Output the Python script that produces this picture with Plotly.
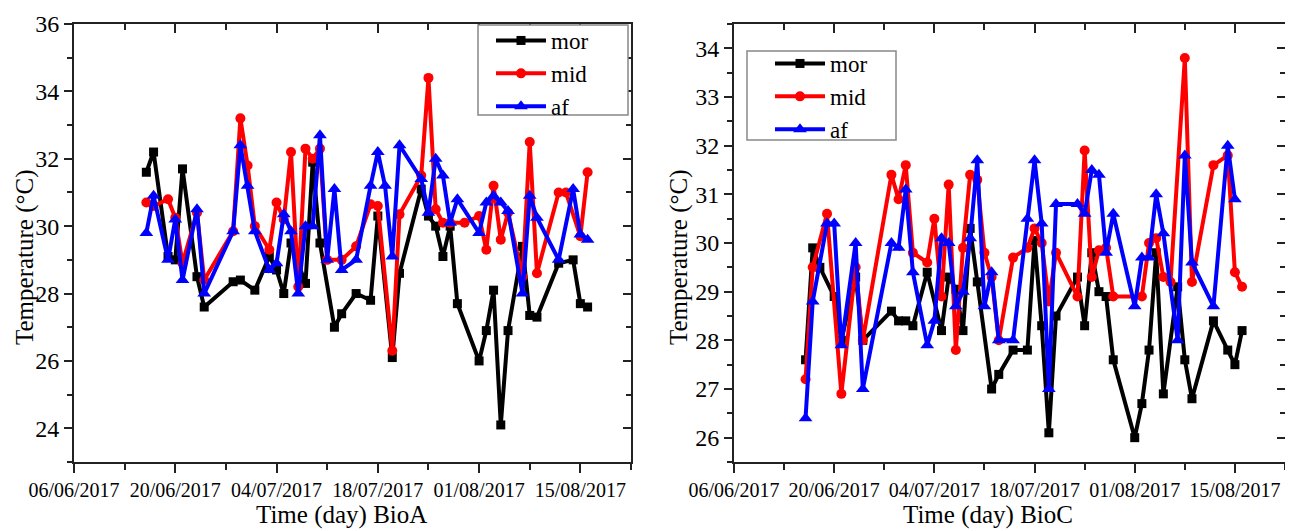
import plotly.graph_objects as go
import pandas as pd

# ---------------- data ----------------
BASE_DATE = "2017-06-06"          # day offsets below are counted from this date
RANGE_END = "2017-08-22"

# BioA
mor_A_day = [10,11,13,14,15,17,18,22,23,25,27,28,29,30,32,33,34,36,37,39,41,42,
             44,45,48,49,50,51,52,53,56,57,58,59,60,62,63,64,67,69,70,71]
mor_A = [31.6,32.2,29.1,29.0,31.7,28.5,27.6,28.35,28.4,28.1,29.1,28.7,28.0,29.5,
         28.3,31.9,29.5,27.0,27.4,28.0,27.8,30.3,26.1,28.6,31.1,30.3,30.0,29.1,
         30.0,27.7,26.0,26.9,28.1,24.1,26.9,29.4,27.35,27.3,28.9,29.0,27.7,27.6]
mid_A_day = [10,11,13,14,15,17,18,22,23,24,25,27,28,29,30,31,32,33,34,35,37,39,
             41,42,44,45,48,49,50,51,52,54,56,57,58,59,60,62,63,64,67,68,70,71]
mid_A = [30.7,30.6,30.8,30.25,28.9,30.4,28.4,29.85,33.2,31.8,30.0,29.3,30.7,30.2,
         32.2,28.2,32.3,32.0,32.3,29.0,29.0,29.4,30.65,30.6,26.3,30.35,31.5,34.4,
         30.5,30.1,30.1,30.1,30.3,29.3,31.2,29.6,30.4,28.5,32.5,28.6,31.0,31.0,
         29.7,31.6]
af_A_day = [10,11,13,14,15,17,18,22,23,24,25,27,28,29,30,31,32,33,34,35,36,37,
            39,41,42,43,44,45,48,49,50,51,52,53,56,57,58,59,60,62,63,64,67,69,70,71]
af_A = [29.8,30.9,29.0,30.2,28.4,30.5,28.0,29.85,32.4,31.2,29.85,28.7,28.9,30.35,
        29.85,28.0,30.0,30.0,32.7,29.0,31.1,28.7,29.0,31.2,32.2,31.2,29.1,32.4,
        31.4,30.4,32.0,31.5,30.1,30.8,29.8,30.7,30.9,30.7,30.45,28.0,30.9,30.25,
        29.0,31.1,29.75,29.6]

# BioC
mor_C_day = [10,11,12,14,15,17,18,22,23,24,25,27,29,30,31,32,33,34,36,37,39,41,
             42,43,44,45,48,49,50,51,52,53,56,57,58,59,60,62,63,64,67,69,70,71]
mor_C = [27.6,29.9,29.5,28.9,28.0,29.3,28.0,28.6,28.4,28.4,28.3,29.4,28.2,29.3,
         29.05,28.2,30.3,29.2,27.0,27.3,27.8,27.8,30.05,28.3,26.1,28.5,29.3,28.3,
         29.8,29.0,28.9,27.6,26.0,26.7,27.8,29.8,26.9,29.1,27.6,26.8,28.4,27.8,
         27.5,28.2]
mid_C_day = [10,11,13,15,17,18,22,23,24,25,27,28,29,30,31,32,33,34,35,36,37,39,
             41,42,43,44,45,48,49,50,51,52,53,57,58,59,60,61,63,64,67,69,70,71]
mid_C = [27.2,29.5,30.6,26.9,29.5,28.0,31.4,30.9,31.6,29.8,29.6,30.5,28.9,31.2,
         27.8,29.9,31.4,31.3,29.8,29.3,28.0,29.7,29.9,30.3,30.0,28.8,29.8,28.9,
         31.9,29.3,29.85,29.9,28.9,28.9,30.0,30.1,29.3,29.2,33.8,29.2,31.6,31.8,
         29.4,29.1]
af_C_day = [10,11,13,14,15,17,18,22,23,24,25,27,28,29,30,31,32,33,34,35,36,37,
            39,41,42,43,44,45,48,49,50,51,52,53,56,57,58,59,60,62,63,64,67,69,70]
af_C = [26.4,28.8,30.4,30.4,27.9,30.0,27.0,30.0,29.9,31.1,29.4,27.9,28.4,30.1,
        30.0,28.7,29.0,30.1,31.7,28.7,29.4,28.0,28.0,30.5,31.7,30.4,27.0,30.8,
        30.8,30.6,31.5,31.4,29.8,30.6,28.7,29.7,29.7,31.0,30.2,28.0,31.8,29.6,
        28.7,32.0,30.9]

series_names = ["mor", "mid", "af"]
# ---------------------------------------

base = pd.Timestamp(BASE_DATE)


def to_dates(days):
    return [base + pd.Timedelta(days=d) for d in days]


styles = {
    "mor": dict(color="black", symbol="square", size=9),
    "mid": dict(color="red", symbol="circle", size=10),
    "af": dict(color="blue", symbol="triangle-up", size=12),
}

FONT = "Liberation Serif"
# the page body has an 8px margin: size the figure so it fits the window exactly
OFF = 8
W, H = 1293 - OFF, 531 - OFF


def px(x):
    return (x - OFF) / W


def py(y):
    return 1 - (y - OFF) / H


fig = go.Figure()

panels = [
    ("x", "y", "legend", [(mor_A_day, mor_A), (mid_A_day, mid_A), (af_A_day, af_A)]),
    ("x2", "y2", "legend2", [(mor_C_day, mor_C), (mid_C_day, mid_C), (af_C_day, af_C)]),
]
for xa, ya, lg, data in panels:
    for name, (days, vals) in zip(series_names, data):
        st = styles[name]
        fig.add_trace(go.Scatter(
            x=to_dates(days), y=vals, name=name, mode="lines+markers",
            xaxis=xa, yaxis=ya, legend=lg,
            line=dict(color=st["color"], width=4),
            marker=dict(color=st["color"], symbol=st["symbol"], size=st["size"]),
        ))

# empty helper traces so the inner-tick overlay axes get drawn
for xa, ya in [("x3", "y3"), ("x4", "y4")]:
    fig.add_trace(go.Scatter(x=[], y=[], xaxis=xa, yaxis=ya, showlegend=False,
                             hoverinfo="skip"))

DAY = 86400000
AX = "#222"
xr = [base, pd.Timestamp(RANGE_END)]


def xbase(domain, anchor):
    return dict(domain=domain, anchor=anchor, type="date", range=xr, tick0=base,
                dtick=14 * DAY, tickformat="%d/%m/%Y", ticks="outside", ticklen=9,
                tickwidth=2, tickcolor=AX, showline=True, linecolor=AX, linewidth=2,
                mirror=True, showgrid=False, zeroline=False, automargin=False,
                tickfont=dict(family=FONT, size=20, color="black"),
                minor=dict(ticks="outside", ticklen=6, tickwidth=2, tickcolor=AX,
                           dtick=7 * DAY, tick0=base, showgrid=False))


def ybase(domain, anchor, rng, dt):
    return dict(domain=domain, anchor=anchor, range=rng, dtick=dt, ticks="outside",
                ticklen=8, tickwidth=2, tickcolor=AX, showline=True, linecolor=AX,
                linewidth=2, mirror=True, showgrid=False, zeroline=False,
                automargin=False,
                tickfont=dict(family=FONT, size=24, color="black"),
                minor=dict(ticks="outside", ticklen=5, tickwidth=2, tickcolor=AX,
                           dtick=dt / 2, showgrid=False))


def xtop(over, anchor):
    return dict(overlaying=over, anchor=anchor, side="top", type="date", range=xr,
                tick0=base, dtick=14 * DAY, ticks="inside", ticklen=9, tickwidth=2,
                tickcolor=AX, showticklabels=False, showline=False, showgrid=False,
                zeroline=False, automargin=False,
                minor=dict(ticks="inside", ticklen=6, tickwidth=2, tickcolor=AX,
                           dtick=7 * DAY, tick0=base, showgrid=False))


def yright(over, anchor, rng, dt):
    return dict(overlaying=over, anchor=anchor, side="right", range=rng, dtick=dt,
                ticks="inside", ticklen=8, tickwidth=2, tickcolor=AX,
                showticklabels=False, showline=False, showgrid=False, zeroline=False,
                automargin=False,
                minor=dict(ticks="inside", ticklen=5, tickwidth=2, tickcolor=AX,
                           dtick=dt / 2, showgrid=False))


dA = [px(74), px(631)]
dC = [px(734), px(1285)]
dy = [py(462), py(24)]

legend_common = dict(xanchor="left", yanchor="top", borderwidth=0,
                     bgcolor="rgba(0,0,0,0)", font=dict(family=FONT, size=23, color="black"),
                     tracegroupgap=0, itemwidth=50)

legend_boxes = [(478, 25, 628, 115), (747, 51, 896, 140)]
shapes = [dict(type="rect", xref="paper", yref="paper", x0=px(a), y0=py(d), x1=px(c),
               y1=py(b), line=dict(color="#888", width=1.5), fillcolor="white",
               layer="above") for a, b, c, d in legend_boxes]

title_font = dict(family=FONT, size=25, color="black")
fig.update_layout(
    template="none",
    width=W, height=H, margin=dict(l=0, r=0, t=0, b=0, autoexpand=False),
    paper_bgcolor="white", plot_bgcolor="white",
    xaxis=xbase(dA, "y"),
    yaxis=ybase(dy, "x", [23, 36], 2),
    xaxis2=xbase(dC, "y2"),
    yaxis2=ybase(dy, "x2", [25.5, 34.5], 1),
    xaxis3=xtop("x", "y3"),
    yaxis3=yright("y", "x3", [23, 36], 2),
    xaxis4=xtop("x2", "y4"),
    yaxis4=yright("y2", "x4", [25.5, 34.5], 1),
    legend=dict(x=px(491), y=py(19), **legend_common),
    legend2=dict(x=px(770), y=py(42), **legend_common),
    shapes=shapes,
    annotations=[
        dict(text="Temperature (°C)", x=px(25), y=py(257), xref="paper", yref="paper",
             textangle=-90, showarrow=False, xanchor="center", yanchor="middle",
             font=title_font),
        dict(text="Temperature (°C)", x=px(679), y=py(257), xref="paper", yref="paper",
             textangle=-90, showarrow=False, xanchor="center", yanchor="middle",
             font=title_font),
        dict(text="Time (day) BioA", x=px(341), y=py(515), xref="paper", yref="paper",
             showarrow=False, xanchor="center", yanchor="middle", font=title_font),
        dict(text="Time (day) BioC", x=px(988), y=py(515), xref="paper", yref="paper",
             showarrow=False, xanchor="center", yanchor="middle", font=title_font),
    ],
)

fig.write_html("out.html")
